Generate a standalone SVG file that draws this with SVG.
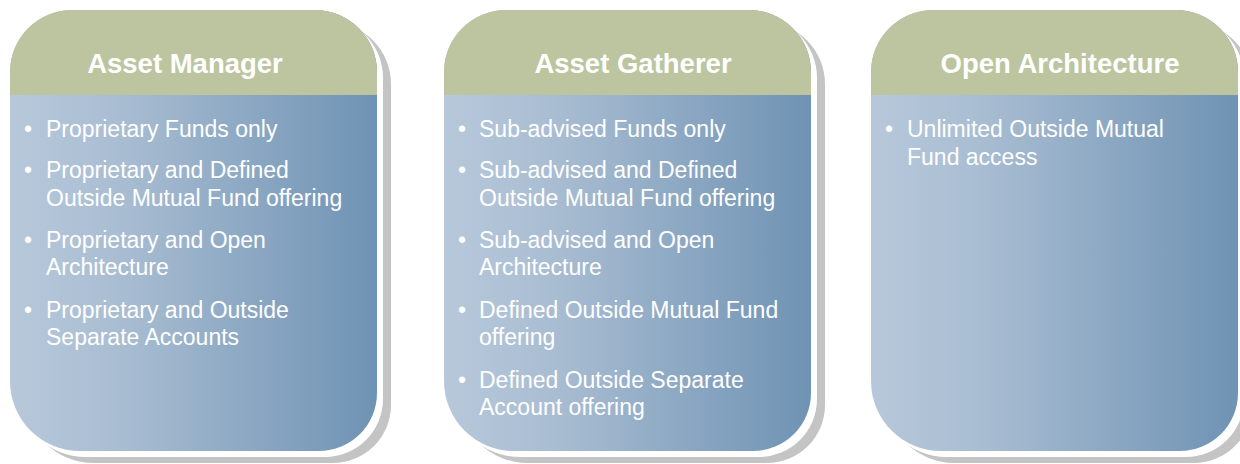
<svg xmlns="http://www.w3.org/2000/svg" width="1240" height="464" viewBox="0 0 1240 464">
<style>
.shadow{fill:#c4c4c4}
.rim{fill:#ffffff}
.hdr{fill:#bcc59f}
.title{font-family:"Liberation Sans",Arial,sans-serif;font-weight:bold;font-size:27.5px;fill:#ffffff;text-anchor:middle}
.item{font-family:"Liberation Sans",Arial,sans-serif;font-size:23px;fill:#ffffff}
</style>
<defs>
<linearGradient id="bodyGrad" x1="0" y1="0" x2="1" y2="0">
<stop offset="0" stop-color="#b7c8da"/>
<stop offset="0.3" stop-color="#a9bdd2"/>
<stop offset="1" stop-color="#6f93b4"/>
</linearGradient>
<path id="cardShape" d="M62,0 H305 A62,62 0 0 1 367,62 V383 A58,58 0 0 1 309,441 H70 A70,70 0 0 1 0,371 V62 A62,62 0 0 1 62,0 Z"/>
<clipPath id="cardClip"><use href="#cardShape"/></clipPath>
</defs>

<g id="card-asset-manager" transform="translate(10,10)">
<use href="#cardShape" class="shadow" transform="translate(14,12)"/>
<use href="#cardShape" class="rim" transform="translate(6,6)"/>
<g clip-path="url(#cardClip)">
<rect x="0" y="0" width="367" height="441" fill="url(#bodyGrad)"/>
<rect x="0" y="0" width="367" height="85" class="hdr"/>
</g>
<text class="title" x="175" y="63">Asset Manager</text>
<text class="item" x="14" y="127">•</text><text class="item" x="36" y="127">Proprietary Funds only</text>
<text class="item" x="14" y="168">•</text><text class="item" x="36" y="168">Proprietary and Defined</text>
<text class="item" x="36" y="195.5">Outside Mutual Fund offering</text>
<text class="item" x="14" y="237.5">•</text><text class="item" x="36" y="237.5">Proprietary and Open</text>
<text class="item" x="36" y="265">Architecture</text>
<text class="item" x="14" y="307.5">•</text><text class="item" x="36" y="307.5">Proprietary and Outside</text>
<text class="item" x="36" y="335">Separate Accounts</text>
</g>

<g id="card-asset-gatherer" transform="translate(444,10)">
<use href="#cardShape" class="shadow" transform="translate(14,12)"/>
<use href="#cardShape" class="rim" transform="translate(6,6)"/>
<g clip-path="url(#cardClip)">
<rect x="0" y="0" width="367" height="441" fill="url(#bodyGrad)"/>
<rect x="0" y="0" width="367" height="85" class="hdr"/>
</g>
<text class="title" x="189" y="63">Asset Gatherer</text>
<text class="item" x="14" y="127">•</text><text class="item" x="35" y="127">Sub-advised Funds only</text>
<text class="item" x="14" y="168">•</text><text class="item" x="35" y="168">Sub-advised and Defined</text>
<text class="item" x="35" y="195.5">Outside Mutual Fund offering</text>
<text class="item" x="14" y="237.5">•</text><text class="item" x="35" y="237.5">Sub-advised and Open</text>
<text class="item" x="35" y="265">Architecture</text>
<text class="item" x="14" y="307.5">•</text><text class="item" x="35" y="307.5">Defined Outside Mutual Fund</text>
<text class="item" x="35" y="335">offering</text>
<text class="item" x="14" y="377.5">•</text><text class="item" x="35" y="377.5">Defined Outside Separate</text>
<text class="item" x="35" y="405">Account offering</text>
</g>

<g id="card-open-architecture" transform="translate(871,10)">
<use href="#cardShape" class="shadow" transform="translate(14,12)"/>
<use href="#cardShape" class="rim" transform="translate(6,6)"/>
<g clip-path="url(#cardClip)">
<rect x="0" y="0" width="367" height="441" fill="url(#bodyGrad)"/>
<rect x="0" y="0" width="367" height="85" class="hdr"/>
</g>
<text class="title" x="189" y="63">Open Architecture</text>
<text class="item" x="14" y="127">•</text><text class="item" x="36" y="127">Unlimited Outside Mutual</text>
<text class="item" x="36" y="154.5">Fund access</text>
</g>

<g id="connectors"/>
</svg>
